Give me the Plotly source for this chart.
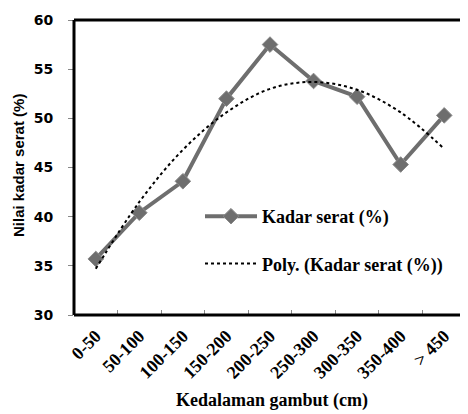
import plotly.graph_objects as go

categories = ["0-50", "50-100", "100-150", "150-200", "200-250", "250-300", "300-350", "350-400", "> 450"]
kadar_serat = [35.7, 40.4, 43.6, 52.0, 57.5, 53.8, 52.2, 45.3, 50.3]
poly_trend = [34.7, 41.5, 46.8, 50.6, 53.0, 53.7, 52.9, 50.6, 46.9]
y_ticks = [30, 35, 40, 45, 50, 55, 60]

# page has an 8px body margin; figure is sized to fit inside the window
W, H = 460, 406
L, R, T, B = 66, 2, 12, 99
PW, PH = W - L - R, H - T - B

fig = go.Figure()
fig.add_trace(go.Scatter(
    x=categories, y=kadar_serat, mode="lines+markers",
    name="Kadar serat (%)", legendgroup="a",
    line=dict(color="#6e6e6e", width=4),
    marker=dict(symbol="diamond", size=12, color="#6e6e6e", line=dict(color="#8a8a8a", width=1)),
))
fig.add_trace(go.Scatter(
    x=categories, y=poly_trend, mode="lines",
    name="Poly. (Kadar serat (%))", legendgroup="b",
    line=dict(color="black", width=2, dash="dot", shape="spline"),
))

fig.update_layout(
    width=W, height=H,
    margin=dict(l=L, r=R, t=T, b=B),
    paper_bgcolor="white", plot_bgcolor="white",
    showlegend=True,
    legend=dict(
        x=(192 - L) / PW, y=1 - (190 - T) / PH, xanchor="left", yanchor="top",
        font=dict(family="Liberation Serif", size=18, color="black", weight="bold"),
        bgcolor="rgba(0,0,0,0)", borderwidth=0,
        tracegroupgap=21, itemwidth=52,
    ),
    xaxis=dict(
        type="category", range=[-0.5, 8.5],
        showgrid=False, zeroline=False, showline=False,
        ticks="inside", tickson="boundaries", ticklen=5, tickcolor="#888888",
        tickangle=-45, ticklabelstandoff=6,
        tickfont=dict(family="Liberation Serif", size=18, color="black", weight="bold"),
    ),
    yaxis=dict(
        range=[30, 60], tickvals=y_ticks,
        showgrid=False, zeroline=False, showline=False,
        ticks="outside", ticklen=5, tickcolor="#888888", ticklabelstandoff=12,
        tickfont=dict(family="DejaVu Sans", size=14, color="black", weight="bold"),
    ),
    shapes=[
        dict(type="line", xref="paper", yref="paper", x0=0, x1=1, y0=1, y1=1, line=dict(color="black", width=3)),
        dict(type="line", xref="paper", yref="paper", x0=0, x1=1, y0=0, y1=0, line=dict(color="black", width=3)),
        dict(type="line", xref="paper", yref="paper", x0=0, x1=0, y0=0, y1=1, line=dict(color="black", width=3)),
        dict(type="line", xref="paper", yref="paper", x0=1, x1=1, y0=0, y1=1, line=dict(color="#666666", width=1.5)),
    ],
    annotations=[
        dict(text="<b>Nilai kadar serat (%)</b>", xref="paper", yref="paper",
             x=-(L - 10) / PW, y=1 - (158 - T) / PH, textangle=-90, showarrow=False,
             xanchor="center", yanchor="middle",
             font=dict(family="Liberation Sans", size=15, color="black")),
        dict(text="<b>Kedalaman gambut (cm)</b>", xref="paper", yref="paper",
             x=(264 - L) / PW, y=-(392 - (H - B)) / PH, showarrow=False,
             xanchor="center", yanchor="middle",
             font=dict(family="Liberation Serif", size=18, color="black")),
    ],
)

fig.write_html("out.html")
